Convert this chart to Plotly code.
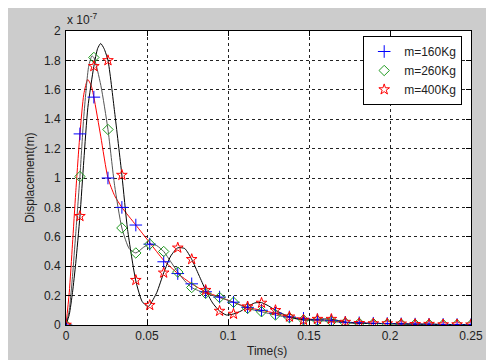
import plotly.graph_objects as go

# ---- data (displacement in units of 1e-7 m) ----
t_markers = [0, 0.0086, 0.0172, 0.0259, 0.0345, 0.0431, 0.0517, 0.0603, 0.0690, 0.0776,
             0.0862, 0.0948, 0.1034, 0.1121, 0.1207, 0.1293, 0.1379, 0.1466, 0.1552, 0.1638,
             0.1724, 0.1810, 0.1897, 0.1983, 0.2069, 0.2155, 0.2241, 0.2328, 0.2414, 0.25]
m160_markers = [0, 1.30, 1.55, 1.00, 0.80, 0.68, 0.55, 0.43, 0.35, 0.28,
                0.226, 0.19, 0.155, 0.12, 0.10, 0.08, 0.055, 0.045, 0.035, 0.03,
                0.018, 0.015, 0.012, 0.01, 0.008, 0.006, 0.005, 0.004, 0.003, 0.003]
m260_markers = [0, 1.01, 1.82, 1.33, 0.66, 0.49, 0.55, 0.50, 0.36, 0.255,
                0.215, 0.187, 0.155, 0.113, 0.09, 0.068, 0.05, 0.035, 0.03, 0.025,
                0.015, 0.012, 0.01, 0.008, 0.006, 0.005, 0.004, 0.003, 0.003, 0.002]
m400_markers = [0, 0.74, 1.76, 1.80, 1.02, 0.305, 0.135, 0.355, 0.525, 0.447,
                0.237, 0.095, 0.075, 0.125, 0.15, 0.10, 0.056, 0.034, 0.04, 0.04,
                0.02, 0.012, 0.01, 0.01, 0.008, 0.005, 0.006, 0.003, 0.003, 0.002]

t_line160 = [0, 0.002, 0.004, 0.006, 0.0086, 0.011, 0.0134, 0.0155, 0.0172, 0.0215, 0.0259,
             0.030, 0.0345, 0.0431, 0.0517, 0.0603, 0.0690, 0.0776, 0.0862, 0.0948, 0.1034,
             0.1121, 0.1207, 0.1293, 0.1379, 0.1466, 0.1552, 0.1638, 0.1724, 0.1810, 0.1897,
             0.1983, 0.2069, 0.2155, 0.2241, 0.2328, 0.2414, 0.25]
v_line160 = [0, 0.22, 0.55, 0.90, 1.30, 1.57, 1.67, 1.63, 1.55, 1.28, 1.00,
             0.88, 0.80, 0.68, 0.56, 0.44, 0.35, 0.28, 0.226, 0.19, 0.155,
             0.12, 0.10, 0.08, 0.055, 0.045, 0.035, 0.03, 0.018, 0.015, 0.012,
             0.01, 0.008, 0.006, 0.005, 0.004, 0.003, 0.003]

t_line260 = [0, 0.002, 0.004, 0.006, 0.0086, 0.011, 0.014, 0.016, 0.0172, 0.0215, 0.0259,
             0.030, 0.0345, 0.039, 0.0431, 0.048, 0.0517, 0.056, 0.0603, 0.0647, 0.0690,
             0.0733, 0.0776, 0.0862, 0.0948, 0.1034, 0.1121, 0.1207, 0.1293, 0.1379, 0.1466,
             0.1552, 0.1638, 0.1724, 0.1810, 0.1897, 0.1983, 0.2069, 0.2155, 0.2241, 0.2328,
             0.2414, 0.25]
v_line260 = [0, 0.10, 0.33, 0.62, 1.01, 1.42, 1.76, 1.83, 1.82, 1.63, 1.33,
             0.95, 0.66, 0.52, 0.49, 0.53, 0.55, 0.54, 0.50, 0.43, 0.36,
             0.30, 0.255, 0.215, 0.187, 0.155, 0.113, 0.09, 0.068, 0.05, 0.035,
             0.03, 0.025, 0.015, 0.012, 0.01, 0.008, 0.006, 0.005, 0.004, 0.003,
             0.003, 0.002]

t_line400 = [0, 0.002, 0.004, 0.006, 0.0086, 0.011, 0.0135, 0.0172, 0.0195, 0.0214, 0.0235,
             0.0259, 0.030, 0.0345, 0.038, 0.0431, 0.047, 0.0505, 0.0517, 0.056, 0.0603,
             0.0647, 0.0690, 0.0733, 0.0776, 0.082, 0.0862, 0.0905, 0.0948, 0.099, 0.1034,
             0.108, 0.1121, 0.1165, 0.1207, 0.125, 0.1293, 0.1379, 0.1466, 0.1552, 0.1638,
             0.1724, 0.1810, 0.1897, 0.1983, 0.2069, 0.2155, 0.2241, 0.2328, 0.2414, 0.25]
v_line400 = [0, 0.07, 0.22, 0.42, 0.74, 1.12, 1.48, 1.76, 1.88, 1.915, 1.88,
             1.80, 1.45, 1.02, 0.65, 0.30, 0.16, 0.125, 0.135, 0.22, 0.355,
             0.47, 0.525, 0.52, 0.447, 0.34, 0.237, 0.15, 0.095, 0.068, 0.075,
             0.095, 0.125, 0.15, 0.152, 0.13, 0.10, 0.056, 0.034, 0.04, 0.04,
             0.02, 0.012, 0.01, 0.01, 0.008, 0.005, 0.006, 0.003, 0.003, 0.002]

x_ticks = [0, 0.05, 0.1, 0.15, 0.2, 0.25]
x_ticklabels = ["0", "0.05", "0.1", "0.15", "0.2", "0.25"]
y_ticks = [0, 0.2, 0.4, 0.6, 0.8, 1.0, 1.2, 1.4, 1.6, 1.8, 2.0]
y_ticklabels = ["0", "0.2", "0.4", "0.6", "0.8", "1", "1.2", "1.4", "1.6", "1.8", "2"]

FONT = "Liberation Sans, Arial, sans-serif"
TXT = "#222222"

fig = go.Figure()
# curves
fig.add_trace(go.Scatter(x=t_line160, y=v_line160, mode="lines", showlegend=False,
                         line=dict(color="#ff0000", width=1, shape="spline", smoothing=0.6),
                         hoverinfo="skip"))
fig.add_trace(go.Scatter(x=t_line260, y=v_line260, mode="lines", showlegend=False,
                         line=dict(color="#555555", width=1, shape="spline", smoothing=0.6),
                         hoverinfo="skip"))
fig.add_trace(go.Scatter(x=t_line400, y=v_line400, mode="lines", showlegend=False,
                         line=dict(color="#000000", width=1, shape="spline", smoothing=0.6),
                         hoverinfo="skip"))
# markers
fig.add_trace(go.Scatter(x=t_markers, y=m160_markers, mode="markers", name="m=160Kg",
                         marker=dict(symbol="cross-thin-open", size=9, color="#0000ff",
                                     line=dict(color="#0000ff", width=1))))
fig.add_trace(go.Scatter(x=t_markers, y=m260_markers, mode="markers", name="m=260Kg",
                         marker=dict(symbol="diamond-open", size=8, color="#1f9a1f",
                                     line=dict(color="#1f9a1f", width=1))))
fig.add_trace(go.Scatter(x=t_markers, y=m400_markers, mode="markers", name="m=400Kg",
                         marker=dict(symbol="star-open", size=8, color="#ff0000",
                                     line=dict(color="#ff0000", width=1))))

axis_common = dict(showline=True, linecolor="black", linewidth=1, mirror="ticks",
                   ticks="inside", ticklen=5, tickcolor="black", tickwidth=1,
                   showgrid=True, gridcolor="#222222", gridwidth=1, griddash="3px,3px",
                   zeroline=False, tickfont=dict(family=FONT, size=12, color=TXT))

fig.update_xaxes(range=[0, 0.25], tickvals=x_ticks, ticktext=x_ticklabels,
                 ticklabeloverflow="allow", **axis_common)
fig.update_yaxes(range=[0, 2], tickvals=y_ticks, ticktext=y_ticklabels, ticklabelstandoff=2,
                 **axis_common)

# The page keeps its default 8px body margin, so page pixel = figure pixel + 8.
W, H = 417, 294
def px(x):
    return (x - 66) / W
def py(y):
    return 1 - (y - 31) / H

fig.update_layout(
    width=482, height=352,
    margin=dict(l=58, r=7, t=23, b=35, pad=0),
    paper_bgcolor="#cccccc", plot_bgcolor="white",
    font=dict(family=FONT, size=12, color=TXT),
    legend=dict(x=px(372), y=py(36), xanchor="left", yanchor="top",
                bgcolor="white", bordercolor="black", borderwidth=1,
                font=dict(family=FONT, size=12, color=TXT),
                tracegroupgap=0),
    annotations=[
        dict(text="Time(s)", xref="paper", yref="paper", x=px(272.5), y=py(350.5),
             xanchor="center", yanchor="middle", showarrow=False,
             font=dict(family=FONT, size=12, color=TXT)),
        dict(text="Displacement(m)", xref="paper", yref="paper", x=px(29), y=py(178),
             xanchor="center", yanchor="middle", showarrow=False, textangle=-90,
             font=dict(family=FONT, size=12, color=TXT)),
        dict(text="x 10<sup>-7</sup>", xref="paper", yref="paper", x=px(65), y=py(19),
             xanchor="left", yanchor="middle", showarrow=False,
             font=dict(family=FONT, size=12, color=TXT)),
    ],
)

fig.write_html("out.html")
